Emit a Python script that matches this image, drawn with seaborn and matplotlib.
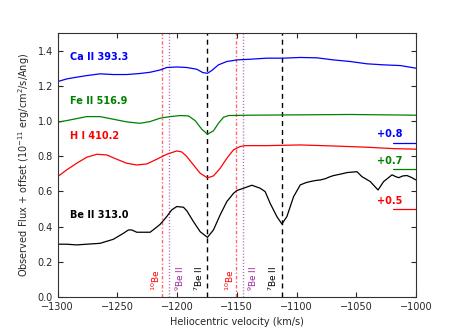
import numpy as np
import matplotlib
matplotlib.use("Agg")
import matplotlib.pyplot as plt
import seaborn as sns

# Spectra (velocity in km/s, flux + offset)
be_v = [-1300, -1292.5, -1284.1, -1275.7, -1264.5, -1253.4, -1245.0, -1240.8, -1238.0,
        -1233.8, -1228.2, -1222.6, -1218.4, -1214.2, -1208.7, -1204.5, -1200.3, -1194.7,
        -1191.9, -1186.3, -1180.7, -1174.6, -1169.6, -1164.0, -1158.4, -1152.8, -1150.0,
        -1144.4, -1137.4, -1130.5, -1126.3, -1122.1, -1116.5, -1112.3, -1108.1, -1102.5,
        -1096.9, -1092.0, -1088.5, -1084.0, -1080.2, -1076.0, -1071.8, -1069.0, -1066.2,
        -1062.0, -1057.8, -1049.4, -1045.3, -1038.3, -1031.8, -1027.1, -1020.1, -1017.0,
        -1014.5, -1011.0, -1007.5, -1004.0, -1000]
be_f = [0.300, 0.300, 0.296, 0.300, 0.305, 0.328, 0.362, 0.381, 0.381,
        0.368, 0.368, 0.368, 0.390, 0.413, 0.457, 0.495, 0.514, 0.510,
        0.490, 0.428, 0.371, 0.339, 0.381, 0.466, 0.542, 0.589, 0.605,
        0.618, 0.635, 0.618, 0.599, 0.532, 0.457, 0.415, 0.457, 0.570,
        0.637, 0.650, 0.656, 0.662, 0.665, 0.672, 0.684, 0.690, 0.694,
        0.700, 0.707, 0.712, 0.684, 0.656, 0.608, 0.656, 0.694, 0.684,
        0.678, 0.688, 0.690, 0.680, 0.665]

h_v = [-1300, -1292.5, -1284.1, -1275.7, -1267.3, -1258.9, -1250.6, -1242.2, -1233.8,
       -1225.4, -1217.0, -1208.7, -1200.3, -1196.1, -1191.9, -1186.3, -1180.7, -1174.6,
       -1169.6, -1164.0, -1158.4, -1152.8, -1147.2, -1143.0, -1124.9, -1097.0, -1069.0,
       -1041.1, -1018.7, -1000]
h_f = [0.684, 0.722, 0.760, 0.794, 0.811, 0.807, 0.783, 0.760, 0.750,
       0.756, 0.783, 0.811, 0.830, 0.824, 0.798, 0.750, 0.703, 0.677,
       0.688, 0.731, 0.788, 0.836, 0.855, 0.860, 0.860, 0.864, 0.858,
       0.851, 0.843, 0.840]

fe_v = [-1300, -1289.7, -1275.7, -1264.5, -1253.4, -1242.2, -1231.0, -1222.6, -1214.2,
        -1205.9, -1197.5, -1190.5, -1184.9, -1179.3, -1174.6, -1169.6, -1165.4, -1161.2,
        -1157.0, -1138.8, -1097.0, -1055.1, -1000]
fe_f = [0.993, 1.006, 1.025, 1.025, 1.010, 0.995, 0.987, 0.997, 1.016,
        1.025, 1.031, 1.029, 1.002, 0.953, 0.925, 0.944, 0.987, 1.021,
        1.031, 1.033, 1.035, 1.037, 1.033]

ca_v = [-1300, -1292.5, -1284.1, -1275.7, -1264.5, -1253.4, -1242.2, -1231.0, -1222.6,
        -1214.2, -1208.7, -1200.3, -1191.9, -1183.5, -1178.5, -1174.6, -1171.0, -1165.4,
        -1158.4, -1150.0, -1138.8, -1124.9, -1110.9, -1097.0, -1083.0, -1069.0, -1055.1,
        -1041.1, -1027.1, -1013.1, -1000]
ca_f = [1.224, 1.239, 1.249, 1.258, 1.268, 1.264, 1.264, 1.270, 1.277,
        1.290, 1.304, 1.307, 1.304, 1.294, 1.275, 1.271, 1.287, 1.319,
        1.338, 1.347, 1.351, 1.357, 1.357, 1.361, 1.359, 1.347, 1.338,
        1.325, 1.319, 1.315, 1.300]

# Line identifications
ion_names = ["Ca II 393.3", "Fe II 516.9", "H I 410.2", "Be II 313.0"]
ion_colors = ["blue", "green", "red", "black"]
ion_label_y = [1.366, 1.116, 0.917, 0.466]

# Offsets applied to each spectrum
offset_text = ["+0.8", "+0.7", "+0.5"]
offset_level = [0.877, 0.728, 0.500]
offset_colors = ["blue", "green", "red"]

# Isotope line positions (two velocity components)
be10_v = [-1212.8, -1150.5]
be9_v = [-1206.4, -1144.7]
be7_v = [-1174.6, -1112.3]

sns.set_style("ticks", {"xtick.direction": "in", "ytick.direction": "in",
                        "axes.edgecolor": "#333333"})
plt.rcParams["font.family"] = ["DejaVu Sans"]
plt.rcParams["xtick.top"] = True
plt.rcParams["ytick.right"] = True

fig = plt.figure(figsize=(4.63, 3.31), dpi=100)
ax = fig.add_axes([0.1246, 0.1027, 0.7739, 0.7976])

for v in be10_v:
    ax.axvline(v, color="red", lw=1.0, alpha=0.6, dashes=(2.5, 1.5, 1.0, 1.5))
for v in be9_v:
    ax.axvline(v, color="darkmagenta", lw=1.0, alpha=0.6, dashes=(0.8, 1.4))
for v in be7_v:
    ax.axvline(v, color="black", lw=1.0, dashes=(3.6, 2.9))

for xs, ys, c in [(ca_v, ca_f, "blue"), (fe_v, fe_f, "green"),
                  (h_v, h_f, "red"), (be_v, be_f, "black")]:
    sns.lineplot(x=xs, y=ys, color=c, lw=0.9, sort=False, ax=ax)

for name, c, y in zip(ion_names, ion_colors, ion_label_y):
    ax.text(-1290, y, name, color=c, fontsize=7, fontweight="bold", va="center")

for txt, lev, c in zip(offset_text, offset_level, offset_colors):
    ax.plot([-1019.6, -1000], [lev, lev], color=c, lw=0.9)
    ax.text(-1011.5, lev + 0.018, txt, color=c, fontsize=7, fontweight="bold",
            ha="right", va="bottom")

for v in be10_v:
    ax.text(v - 5.4, 0.035, "$^{10}$Be", color="red", fontsize=6.5,
            rotation=90, ha="center", va="bottom")
for v in be9_v:
    ax.text(v + 8.3, 0.035, "$^{9}$Be II", color="darkmagenta", fontsize=6.5,
            rotation=90, ha="center", va="bottom", alpha=0.85)
for v in be7_v:
    ax.text(v - 7.5, 0.035, "$^{7}$Be II", color="black", fontsize=6.5,
            rotation=90, ha="center", va="bottom")

ax.set_xlim(-1300, -1000)
ax.set_ylim(0, 1.5)
ax.set_xticks([-1300, -1250, -1200, -1150, -1100, -1050, -1000])
ax.set_yticks([0.0, 0.2, 0.4, 0.6, 0.8, 1.0, 1.2, 1.4])
ax.tick_params(labelsize=7, length=3.5, width=0.8)
ax.set_xlabel("Heliocentric velocity (km/s)", fontsize=7)
ax.set_ylabel("Observed Flux + offset (10$^{-11}$ erg/cm$^2$/s/Ang)", fontsize=7)

fig.savefig("out.png", dpi=100)
plt.close(fig)
